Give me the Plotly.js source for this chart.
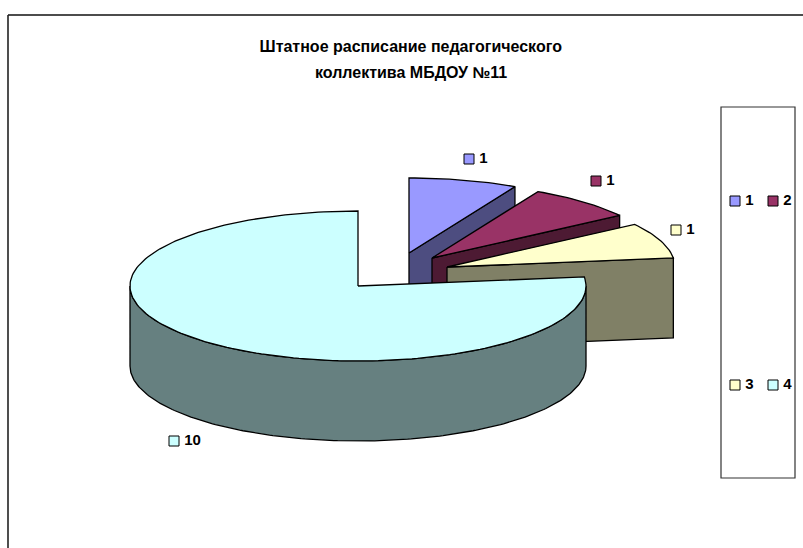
<!DOCTYPE html>
<html>
<head>
<meta charset="utf-8">
<script src="https://cdn.plot.ly/plotly-3.0.1.min.js"></script>
<style>html,body{margin:0;padding:0;background:#fff;overflow:hidden}</style>
</head>
<body>
<div id="chart" style="width:803px;height:548px"></div>
<script>
// Chart data
var categories = ['1', '2', '3', '4'];
var seriesValues = [1, 1, 1, 10];
var valueLabels = ['1', '1', '1', '10'];
var topColors = ['#9999FF', '#993366', '#FFFFCC', '#CCFFFF'];
var sideColors = ['#4D4D80', '#4D1A33', '#808066', '#668080'];
var titleLines = ['Штатное расписание педагогического', 'коллектива МБДОУ №11'];

// Projection of the exploded pie
var rx = 228, ry = 75, depth = 80;
var apexX = [409, 432, 447, 358];
var apexY = [253, 258, 267, 286];
var labelX = [469, 596, 676, 174];
var labelY = [159, 181, 230, 441];
var legendX = [735, 773, 735, 773];
var legendY = [201, 201, 385, 385];

var total = seriesValues.reduce(function (a, b) { return a + b; }, 0);
var traces = [];
function poly(xs, ys, color) {
  traces.push({type: 'scatter', mode: 'lines', x: xs, y: ys, fill: 'toself', fillcolor: color,
    line: {color: '#000', width: 1.3}, hoverinfo: 'skip', showlegend: false});
}
function px(i, a) { return apexX[i] + rx * Math.sin(a); }
function py(i, a) { return apexY[i] - ry * Math.cos(a); }

var start = 0;
seriesValues.forEach(function (v, i) {
  var end = start + v / total * 2 * Math.PI;
  var steps = Math.max(8, Math.round((end - start) * 40));
  var k, a;
  if (end < Math.PI) {
    // cut face at the end of the slice
    poly([apexX[i], px(i, end), px(i, end), apexX[i], apexX[i]],
         [apexY[i], py(i, end), py(i, end) + depth, apexY[i] + depth, apexY[i]], sideColors[i]);
  } else {
    // outer rim that faces the viewer
    var from = Math.max(start, Math.PI / 2), to = Math.min(end, 3 * Math.PI / 2);
    var xs = [], ys = [];
    for (k = 0; k <= steps; k++) { a = from + (to - from) * k / steps; xs.push(px(i, a)); ys.push(py(i, a)); }
    for (k = steps; k >= 0; k--) { a = from + (to - from) * k / steps; xs.push(px(i, a)); ys.push(py(i, a) + depth); }
    xs.push(xs[0]); ys.push(ys[0]);
    poly(xs, ys, sideColors[i]);
  }
  // top face
  var tx = [apexX[i]], ty = [apexY[i]];
  for (k = 0; k <= steps; k++) { a = start + (end - start) * k / steps; tx.push(px(i, a)); ty.push(py(i, a)); }
  tx.push(apexX[i]); ty.push(apexY[i]);
  poly(tx, ty, topColors[i]);
  start = end;
});

// Data labels and legend keys
var boldFont = {family: 'Liberation Sans', size: 15, color: '#000', weight: 700};
var keyMarker = {symbol: 'square', size: 10, color: topColors, line: {color: '#000', width: 1}};
traces.push({type: 'scatter', mode: 'markers+text', x: labelX, y: labelY,
  text: valueLabels.map(function (t) { return '\u2009' + t; }),
  textposition: 'middle right', textfont: boldFont, marker: keyMarker,
  hoverinfo: 'skip', showlegend: false, cliponaxis: false});
traces.push({type: 'scatter', mode: 'markers+text', x: legendX, y: legendY,
  text: categories.map(function (t) { return '\u2009' + t; }),
  textposition: 'middle right', textfont: boldFont, marker: keyMarker,
  hoverinfo: 'skip', showlegend: false, cliponaxis: false});

var titleFont = {family: 'Liberation Sans', size: 16, color: '#000', weight: 700};
var layout = {
  width: 803, height: 548,
  margin: {l: 0, r: 0, t: 0, b: 0},
  paper_bgcolor: '#fff', plot_bgcolor: '#fff',
  showlegend: false,
  title: {
    text: titleLines[0],
    x: 0.5115, xanchor: 'center', y: 0.9145, yanchor: 'middle',
    font: titleFont
  },
  annotations: [{
    text: titleLines[1], x: 410.5, y: 72, xref: 'x', yref: 'y',
    xanchor: 'center', yanchor: 'middle', showarrow: false, font: titleFont
  }],
  xaxis: {range: [0, 803], visible: false, fixedrange: true},
  yaxis: {range: [548, 0], visible: false, fixedrange: true},
  shapes: [
    {type: 'line', x0: 8, x1: 803, y0: 15, y1: 15, line: {color: '#111', width: 1.6}},
    {type: 'line', x0: 8, x1: 8, y0: 15, y1: 548, line: {color: '#222', width: 1.6}},
    {type: 'rect', x0: 721, x1: 795, y0: 107, y1: 478, line: {color: '#333', width: 1.2}, layer: 'below'}
  ]
};
Plotly.newPlot('chart', traces, layout, {displayModeBar: false, staticPlot: true});
</script>
</body>
</html>
